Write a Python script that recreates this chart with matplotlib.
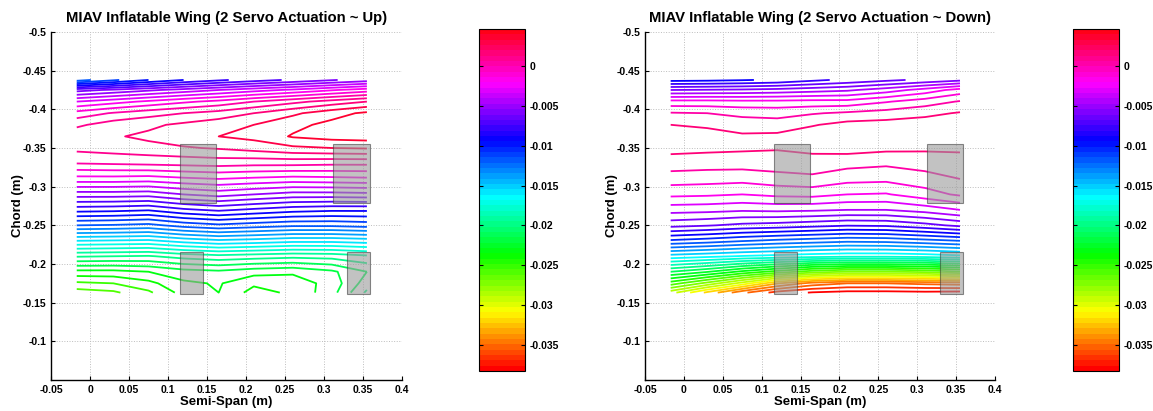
import numpy as np
import matplotlib
matplotlib.use('Agg')
import matplotlib.pyplot as plt
from matplotlib.colors import Normalize
from matplotlib.cm import ScalarMappable
from matplotlib.patches import Rectangle

plt.rcParams['font.family'] = ['Liberation Sans', 'DejaVu Sans']
plt.rcParams['font.weight'] = 'bold'
plt.rcParams['axes.unicode_minus'] = False

# measurement grid (m)
span = [-0.017, 0.03, 0.075, 0.12, 0.165, 0.21, 0.26, 0.31, 0.355]
chord = [-0.438, -0.425, -0.41, -0.395, -0.38, -0.365, -0.35, -0.33, -0.31,
         -0.29, -0.27, -0.25, -0.23, -0.21, -0.19, -0.175, -0.163]

# displacement, servos up (one row per chord station)
z_up = [
    [-0.0125, -0.0112, -0.0100, -0.0090, -0.0082, -0.0075, -0.0068, -0.0061, -0.0055],
    [-0.0064, -0.0058, -0.0052, -0.0046, -0.0040, -0.0034, -0.0028, -0.0021, -0.0015],
    [-0.0030, -0.0024, -0.0018, -0.0012, -0.0007, 0.0000, 0.0007, 0.0014, 0.0020],
    [-0.0006, 0.0001, 0.0006, 0.0010, 0.0014, 0.0020, 0.0028, 0.0036, 0.0042],
    [0.0008, 0.0015, 0.0018, 0.0022, 0.0026, 0.0030, 0.0037, 0.0043, 0.0046],
    [0.0017, 0.0019, 0.0022, 0.0026, 0.0030, 0.0033, 0.0041, 0.0044, 0.0045],
    [0.0013, 0.0015, 0.0017, 0.0019, 0.0021, 0.0024, 0.0028, 0.0030, 0.0031],
    [0.0000, 0.0001, 0.0002, 0.0003, 0.0004, 0.0003, 0.0003, 0.0002, 0.0002],
    [-0.0024, -0.0024, -0.0025, -0.0022, -0.0020, -0.0022, -0.0024, -0.0023, -0.0022],
    [-0.0055, -0.0055, -0.0056, -0.0050, -0.0046, -0.0050, -0.0054, -0.0054, -0.0053],
    [-0.0086, -0.0087, -0.0089, -0.0082, -0.0078, -0.0082, -0.0086, -0.0088, -0.0088],
    [-0.0120, -0.0121, -0.0123, -0.0116, -0.0112, -0.0115, -0.0118, -0.0118, -0.0116],
    [-0.0160, -0.0161, -0.0162, -0.0156, -0.0152, -0.0154, -0.0157, -0.0157, -0.0155],
    [-0.0199, -0.0200, -0.0201, -0.0196, -0.0193, -0.0195, -0.0197, -0.0196, -0.0192],
    [-0.0233, -0.0233, -0.0230, -0.0224, -0.0222, -0.0226, -0.0228, -0.0222, -0.0210],
    [-0.0252, -0.0250, -0.0243, -0.0232, -0.0229, -0.0238, -0.0236, -0.0226, -0.0205],
    [-0.0265, -0.0262, -0.0252, -0.0236, -0.0230, -0.0244, -0.0238, -0.0224, -0.0198],
]

# displacement, servos down
z_down = [
    [-0.0095, -0.0094, -0.0092, -0.0089, -0.0082, -0.0076, -0.0070, -0.0064, -0.0058],
    [-0.0055, -0.0054, -0.0053, -0.0051, -0.0048, -0.0045, -0.0037, -0.0026, -0.0014],
    [-0.0015, -0.0015, -0.0016, -0.0016, -0.0015, -0.0015, -0.0008, -0.0001, 0.0006],
    [0.0006, 0.0005, 0.0002, 0.0001, 0.0004, 0.0007, 0.0010, 0.0014, 0.0018],
    [0.0017, 0.0015, 0.0011, 0.0010, 0.0016, 0.0021, 0.0022, 0.0023, 0.0024],
    [0.0024, 0.0022, 0.0019, 0.0020, 0.0024, 0.0026, 0.0026, 0.0026, 0.0025],
    [0.0021, 0.0020, 0.0019, 0.0018, 0.0020, 0.0022, 0.0020, 0.0019, 0.0019],
    [0.0011, 0.0010, 0.0010, 0.0011, 0.0012, 0.0009, 0.0007, 0.0010, 0.0012],
    [-0.0001, -0.0002, -0.0003, 0.0000, 0.0002, -0.0003, -0.0004, 0.0000, 0.0005],
    [-0.0016, -0.0017, -0.0019, -0.0016, -0.0015, -0.0019, -0.0020, -0.0012, -0.0005],
    [-0.0038, -0.0039, -0.0041, -0.0040, -0.0041, -0.0043, -0.0043, -0.0038, -0.0031],
    [-0.0063, -0.0066, -0.0070, -0.0072, -0.0075, -0.0078, -0.0077, -0.0071, -0.0064],
    [-0.0105, -0.0109, -0.0114, -0.0118, -0.0121, -0.0124, -0.0123, -0.0119, -0.0115],
    [-0.0156, -0.0160, -0.0164, -0.0167, -0.0170, -0.0172, -0.0172, -0.0170, -0.0166],
    [-0.0211, -0.0222, -0.0238, -0.0252, -0.0265, -0.0272, -0.0272, -0.0268, -0.0260],
    [-0.0253, -0.0275, -0.0300, -0.0330, -0.0348, -0.0355, -0.0355, -0.0352, -0.0350],
    [-0.0290, -0.0322, -0.0352, -0.0372, -0.0380, -0.0383, -0.0383, -0.0382, -0.0383],
]

# contour levels used for each case
levels_up = np.arange(-0.026, 0.0045, 0.001)
levels_down = np.arange(-0.0379, 0.0018, 0.0012)

titles = ['MIAV Inflatable Wing (2 Servo Actuation ~ Up)',
          'MIAV Inflatable Wing (2 Servo Actuation ~ Down)']

x_ticks = [-0.05, 0, 0.05, 0.1, 0.15, 0.2, 0.25, 0.3, 0.35, 0.4]
x_tick_labels = ['-0.05', '0', '0.05', '0.1', '0.15', '0.2', '0.25', '0.3', '0.35', '0.4']
y_ticks = [-0.5, -0.45, -0.4, -0.35, -0.3, -0.25, -0.2, -0.15, -0.1]
y_tick_labels = ['-0.5', '-0.45', '-0.4', '-0.35', '-0.3', '-0.25', '-0.2', '-0.15', '-0.1']
cbar_ticks = [0, -0.005, -0.01, -0.015, -0.02, -0.025, -0.03, -0.035]
cbar_labels = ['0', '-0.005', '-0.01', '-0.015', '-0.02', '-0.025', '-0.03', '-0.035']
clim = (-0.0383, 0.0047)

# servo housings (span range, chord range)
servo_upper = [(0.116, 0.162), (0.312, 0.359)]
servo_upper_chord = (-0.355, -0.279)
servo_lower = [(0.116, 0.145), (0.329, 0.359)]
servo_lower_chord = (-0.215, -0.161)

W, H = 1153, 411
fig = plt.figure(figsize=(W / 100, H / 100), dpi=100)
cmap = plt.get_cmap('hsv', 64)


def px_rect(left, top, right, bottom):
    return [left / W, 1 - bottom / H, (right - left) / W, (bottom - top) / H]


def draw_panel(ax_box, cb_box, z, levels, title):
    norm = Normalize(*clim)
    ax = fig.add_axes(px_rect(*ax_box))
    ax.contour(span, chord, np.array(z), levels=levels, cmap=cmap, norm=norm, linewidths=1.3)

    for (x0, x1) in servo_upper:
        ax.add_patch(Rectangle((x0, servo_upper_chord[0]), x1 - x0,
                               servo_upper_chord[1] - servo_upper_chord[0],
                               facecolor='#9a9a9a', alpha=0.6, edgecolor='#404040', lw=0.8, zorder=3))
    for (x0, x1) in servo_lower:
        ax.add_patch(Rectangle((x0, servo_lower_chord[0]), x1 - x0,
                               servo_lower_chord[1] - servo_lower_chord[0],
                               facecolor='#9a9a9a', alpha=0.6, edgecolor='#404040', lw=0.8, zorder=3))

    ax.set_xlim(-0.05, 0.4)
    ax.set_ylim(-0.05, -0.5)
    ax.set_xticks(x_ticks, x_tick_labels)
    ax.set_yticks(y_ticks, y_tick_labels)
    ax.tick_params(direction='in', length=3, labelsize=7.5, width=0.8)
    for lab in ax.get_xticklabels() + ax.get_yticklabels():
        lab.set_fontweight('bold')
    ax.spines['top'].set_visible(False)
    ax.spines['right'].set_visible(False)
    ax.spines['left'].set_linewidth(1.0)
    ax.spines['bottom'].set_linewidth(1.0)
    ax.grid(True, linestyle=':', color='#bdbdbd', linewidth=0.7)
    ax.set_axisbelow(True)
    ax.set_xlabel('Semi-Span (m)', fontsize=9.5, fontweight='bold', labelpad=1)
    ax.set_ylabel('Chord (m)', fontsize=9.5, fontweight='bold', labelpad=-1)
    ax.set_title(title, fontsize=10.7, fontweight='bold', pad=7)

    cax = fig.add_axes(px_rect(*cb_box))
    cb = fig.colorbar(ScalarMappable(norm=norm, cmap=cmap), cax=cax)
    cb.set_ticks(cbar_ticks, labels=cbar_labels)
    cax.tick_params(direction='in', length=3, labelsize=7.5, left=True, right=True, width=0.8)
    for lab in cax.get_yticklabels():
        lab.set_fontweight('bold')
    cb.outline.set_linewidth(0.8)


draw_panel((51, 32, 402, 380), (479, 29, 525, 371), z_up, levels_up, titles[0])
draw_panel((645, 32, 995, 380), (1073, 29, 1119, 371), z_down, levels_down, titles[1])

fig.savefig('out.png', dpi=100)
